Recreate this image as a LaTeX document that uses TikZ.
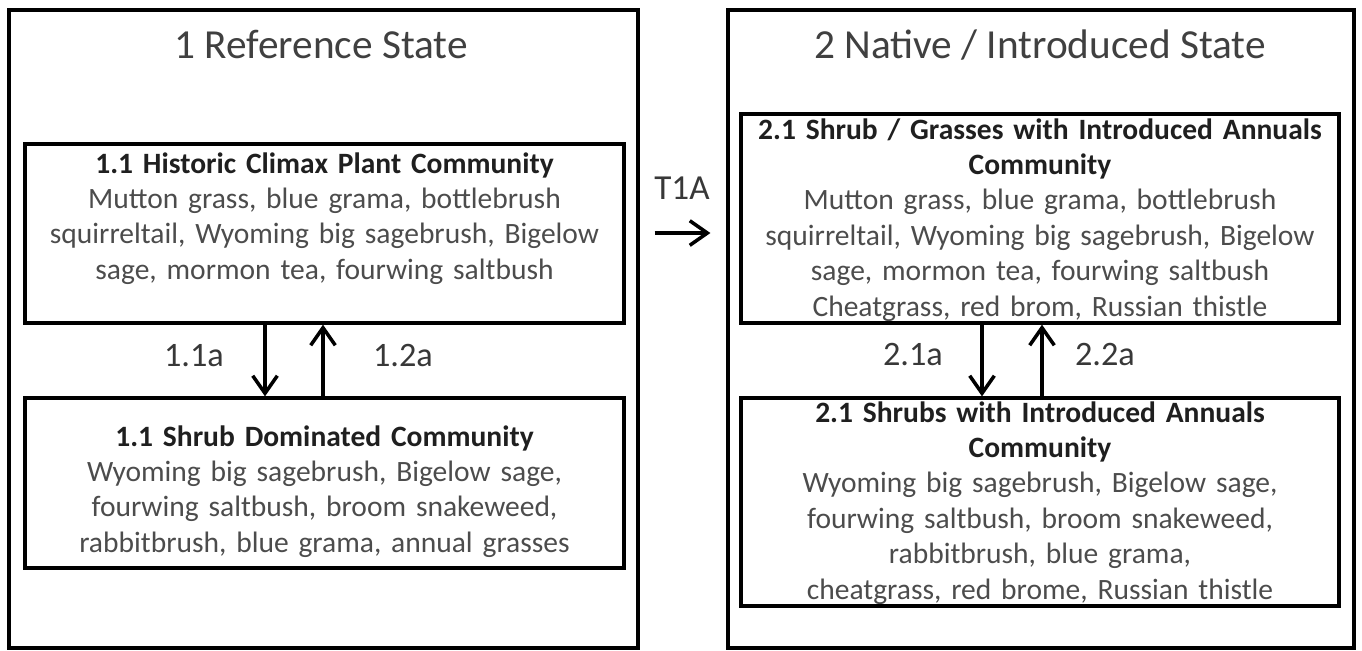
\documentclass[tikz,border=0pt]{standalone}
\usepackage{fontspec}
\setmainfont{Carlito}
\usetikzlibrary{arrows.meta}
\definecolor{bodygray}{gray}{0.30}
\definecolor{headgray}{gray}{0.12}
\tikzset{
  statebox/.style={draw,line width=1.9pt,inner sep=0pt},
  commbox/.style={draw,line width=1.9pt,inner sep=0pt,minimum width=11.98cm},
  commtext/.style={anchor=base,align=center,text width=12cm,text=bodygray,inner sep=0pt,
    font=\fontsize{16.8}{20.2}\selectfont},
  statetitle/.style={anchor=base,text=black!75,inner sep=0pt,font=\fontsize{23.5}{28}\selectfont},
  pathlabel/.style={anchor=base,text=black!78,inner sep=0pt,font=\fontsize{19.5}{23}\selectfont},
  trans/.style={line width=1.8pt,-{Straight Barb[length=10pt,width=14pt,line width=2pt]}}
}
\newcommand{\commhead}[1]{{\bfseries\color{headgray}#1}}
\begin{document}
\begin{tikzpicture}[x=0.02cm,y=-0.02cm]
  \useasboundingbox (0,0) rectangle (1362,650);
  % states
  \node[statebox,minimum width=12.58cm,minimum height=12.76cm] (refstate) at (323.5,329) {};
  \node[statebox,minimum width=12.52cm,minimum height=12.76cm] (natstate) at (1041,329) {};
  \node[statetitle] (reftitle) at (321,58) {1 Reference State};
  \node[statetitle] (nattitle) at (1040,58) {2 Native / Introduced State};
  % communities
  \node[commbox,minimum height=3.58cm] (hcpc) at (324.5,233.5) {};
  \node[commbox,minimum height=3.4cm] (shrubdom) at (324.5,483) {};
  \node[commbox,minimum width=11.96cm,minimum height=4.18cm] (shrubgrass) at (1040,218.5) {};
  \node[commbox,minimum width=11.96cm,minimum height=4.16cm] (shrubannual) at (1040,502) {};
  \node[commtext] (hcpctext) at (324.5,173) {\commhead{1.1 Historic Climax Plant Community}\\
    Mutton grass, blue grama, bottlebrush\\
    squirreltail, Wyoming big sagebrush, Bigelow\\
    sage, mormon tea, fourwing saltbush};
  \node[commtext] (shrubdomtext) at (324.5,446) {\commhead{1.1 Shrub Dominated Community}\\
    Wyoming big sagebrush, Bigelow sage,\\
    fourwing saltbush, broom snakeweed,\\
    rabbitbrush, blue grama, annual grasses};
  \node[commtext] (shrubgrasstext) at (1040,139) {\commhead{2.1 Shrub / Grasses with Introduced Annuals}\\
    \commhead{Community}\\
    Mutton grass, blue grama, bottlebrush\\
    squirreltail, Wyoming big sagebrush, Bigelow\\
    sage, mormon tea, fourwing saltbush\\
    Cheatgrass, red brom, Russian thistle};
  \node[commtext] (shrubannualtext) at (1040,422) {\commhead{2.1 Shrubs with Introduced Annuals}\\
    \commhead{Community}\\
    Wyoming big sagebrush, Bigelow sage,\\
    fourwing saltbush, broom snakeweed,\\
    rabbitbrush, blue grama,\\
    cheatgrass, red brome, Russian thistle};
  % pathways
  \draw[trans] ([xshift=-1.19cm]hcpc.south) -- ([xshift=-1.19cm]shrubdom.north);
  \draw[trans] ([xshift=-0.03cm]shrubdom.north) -- ([xshift=-0.03cm]hcpc.south);
  \draw[trans] ([xshift=-1.16cm]shrubgrass.south) -- ([xshift=-1.16cm]shrubannual.north);
  \draw[trans] ([xshift=0.04cm]shrubannual.north) -- ([xshift=0.04cm]shrubgrass.south);
  \node[pathlabel] (p11a) at (194,366) {1.1a};
  \node[pathlabel] (p12a) at (403,366) {1.2a};
  \node[pathlabel] (p21a) at (913,365) {2.1a};
  \node[pathlabel] (p22a) at (1105,365) {2.2a};
  % transition
  \draw[trans,line width=2.3pt,shorten <=0.3cm,shorten >=0.32cm]
    ([yshift=1.92cm]refstate.east) -- ([yshift=1.92cm]natstate.west);
  \node[pathlabel,font=\fontsize{20}{24}\selectfont] (t1a) at (682,199) {T1A};
\end{tikzpicture}
\end{document}
